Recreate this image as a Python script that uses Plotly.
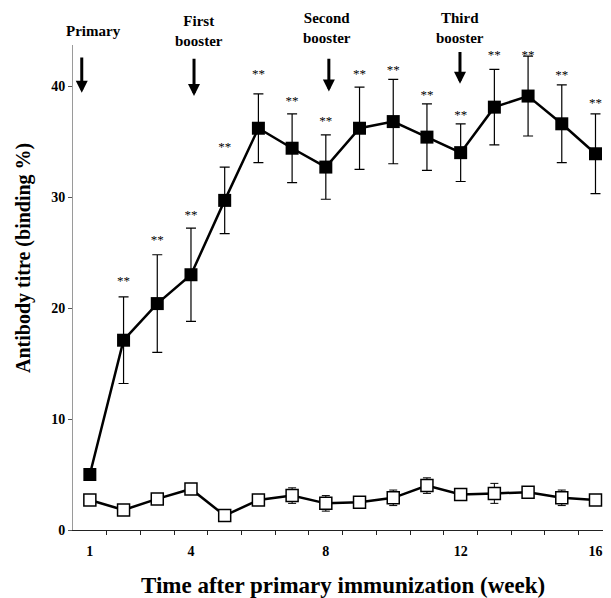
import plotly.graph_objects as go

weeks = list(range(1, 17))
immunized = [5.0, 17.1, 20.4, 23.0, 29.7, 36.2, 34.4, 32.7, 36.2, 36.8, 35.4, 34.0, 38.1, 39.1, 36.6, 33.9]
immunized_err = [0.0, 3.9, 4.4, 4.2, 3.0, 3.1, 3.1, 2.9, 3.7, 3.8, 3.0, 2.6, 3.4, 3.6, 3.5, 3.6]
control = [2.7, 1.8, 2.8, 3.7, 1.3, 2.7, 3.1, 2.4, 2.5, 2.9, 4.0, 3.2, 3.3, 3.4, 2.9, 2.7]
control_err = [0.4, 0.2, 0.3, 0.2, 0.2, 0.3, 0.7, 0.7, 0.3, 0.7, 0.7, 0.2, 0.9, 0.2, 0.7, 0.2]
star_weeks = list(range(2, 17))
star_y = [22.4, 26.1, 28.3, 34.4, 41.0, 38.6, 36.8, 41.0, 41.4, 39.1, 37.3, 42.7, 42.7, 40.9, 38.4]
events = ["Primary", "First<br>booster", "Second<br>booster", "Third<br>booster"]
event_x = [0.76, 4.09, 8.09, 11.98]
event_arrow_top = [42.7, 42.6, 42.6, 43.2]
event_arrow_tip = [39.4, 39.1, 39.5, 40.2]
event_label_x = [1.12, 4.23, 8.03, 11.98]
event_label_y = [45.0, 45.0, 45.2, 45.2]
xtick_vals = [1, 4, 8, 12, 16]
xtick_labels = ["1", "4", "8", "12", "16"]
y_ticks = [0, 10, 20, 30, 40]

serif = "Liberation Serif"
y_top = 43.7
x_range = [0.5, 16.46]

fig = go.Figure()
fig.add_trace(go.Scatter(
    x=weeks, y=control, mode="lines+markers",
    line=dict(color="black", width=2.5),
    marker=dict(symbol="square", size=12, color="white", line=dict(color="black", width=1.5)),
    error_y=dict(type="data", array=control_err, color="black", thickness=1, width=4),
    showlegend=False,
))
fig.add_trace(go.Scatter(
    x=weeks, y=immunized, mode="lines+markers",
    line=dict(color="black", width=2.5),
    marker=dict(symbol="square", size=13, color="black"),
    error_y=dict(type="data", array=immunized_err, color="black", thickness=1.2, width=5),
    showlegend=False,
))
fig.add_trace(go.Scatter(
    x=star_weeks, y=star_y, mode="text", text=["**"] * len(star_weeks),
    textfont=dict(family=serif, size=13, color="black"),
    showlegend=False, cliponaxis=False,
))

for name, x, top, tip, lx, ly in zip(events, event_x, event_arrow_top, event_arrow_tip, event_label_x, event_label_y):
    fig.add_annotation(x=x, y=tip, ax=x, ay=top, xref="x", yref="y", axref="x", ayref="y",
                       showarrow=True, arrowhead=2, arrowsize=0.8, arrowwidth=3, arrowcolor="black", text="")
    fig.add_annotation(x=lx, y=ly / y_top, xref="x", yref="paper", text=name, showarrow=False,
                       font=dict(family=serif, size=15, color="black", weight="bold"), yanchor="middle")

# axis titles as annotations for exact placement
fig.add_annotation(x=0.502, y=-0.115, xref="paper", yref="paper", showarrow=False,
                   text="Time after primary immunization (week)", yanchor="middle", xanchor="center",
                   font=dict(family=serif, size=23, color="black", weight="bold"))
fig.add_annotation(x=-0.091, y=0.561, xref="paper", yref="paper", showarrow=False, textangle=-90,
                   text="Antibody titre (binding %)", yanchor="middle", xanchor="center",
                   font=dict(family=serif, size=20, color="black", weight="bold"))

# page body has an 8px margin: figure is sized/placed to land on the reference positions
fig.update_layout(
    width=603, height=590,
    margin=dict(l=65, r=0, t=37, b=68),
    paper_bgcolor="white", plot_bgcolor="white",
    font=dict(family=serif, color="black"),
)
fig.update_xaxes(
    range=x_range, tickvals=xtick_vals, ticktext=xtick_labels,
    showline=True, linecolor="#222222", linewidth=1, ticks="", ticklabelstandoff=8,
    minor=dict(tickvals=[w + 0.5 for w in weeks[:-1]], ticks="outside", ticklen=4, tickcolor="#222222", showgrid=False),
    showgrid=False, zeroline=False,
    tickfont=dict(family=serif, size=14, weight="bold"),
)
fig.update_yaxes(
    range=[0, y_top], tickvals=y_ticks,
    showline=True, linecolor="#9a9a9a", linewidth=1, ticks="outside", ticklen=4, tickcolor="#555555",
    showgrid=False, zeroline=False,
    tickfont=dict(family=serif, size=14, weight="bold"),
)
fig.write_html("out.html")
